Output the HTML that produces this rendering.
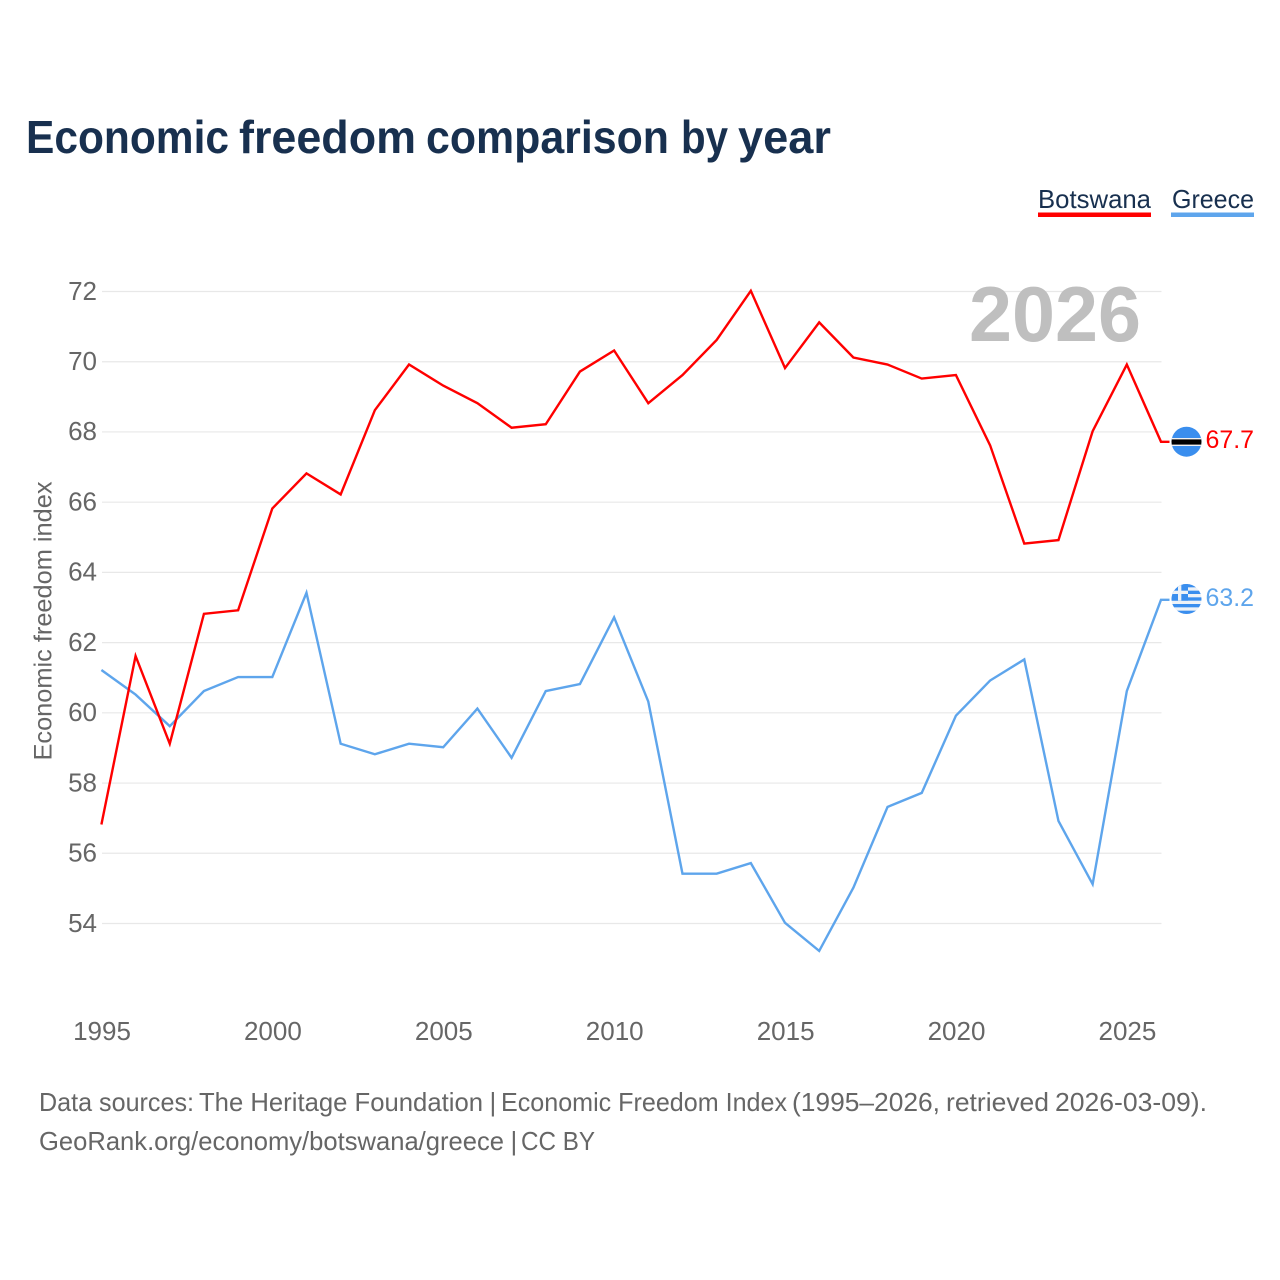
<!DOCTYPE html>
<html lang="en">
<head>
<meta charset="utf-8">
<title>Economic freedom comparison by year</title>
<style>
html,body{margin:0;padding:0;background:#fff;width:1280px;height:1280px;overflow:hidden}
svg{display:block}
text{font-family:"Liberation Sans",sans-serif}
</style>
</head>
<body>
<svg id="chart" xmlns="http://www.w3.org/2000/svg" width="1280" height="1280" viewBox="0 0 1280 1280">
  <rect x="0" y="0" width="1280" height="1280" fill="#fff"/>
  <text y="153" font-size="46.5" font-weight="700" fill="#18304f"><tspan x="26" textLength="203" lengthAdjust="spacingAndGlyphs">Economic</tspan> <tspan x="239" textLength="177" lengthAdjust="spacingAndGlyphs">freedom</tspan> <tspan x="426" textLength="243" lengthAdjust="spacingAndGlyphs">comparison</tspan> <tspan x="681" textLength="47" lengthAdjust="spacingAndGlyphs">by</tspan> <tspan x="738" textLength="93" lengthAdjust="spacingAndGlyphs">year</tspan></text>
  <g>
    <text x="1038" y="208" font-size="26" fill="#18304f" textLength="113" lengthAdjust="spacingAndGlyphs">Botswana</text>
    <rect x="1038" y="212.5" width="113" height="4.5" fill="#ff0000"/>
  </g>
  <g>
    <text x="1172" y="208" font-size="26" fill="#18304f" textLength="82" lengthAdjust="spacingAndGlyphs">Greece</text>
    <rect x="1171" y="212.5" width="83" height="4.5" fill="#5ea5ec"/>
  </g>
  <g id="grid"></g>
  <g id="yticks"></g>
  <g id="xticks"></g>
  <text transform="translate(51.5,621) rotate(-90)" text-anchor="middle" font-size="25" fill="#666" textLength="279" lengthAdjust="spacingAndGlyphs">Economic freedom index</text>
  <text x="1141" y="341" text-anchor="end" font-size="78" font-weight="700" fill="#bfbfbf" textLength="172" lengthAdjust="spacingAndGlyphs">2026</text>
  <g id="series"></g>
  <defs>
    <clipPath id="flag-clip-bw"><circle cx="1186.5" cy="441.7" r="15"/></clipPath>
    <clipPath id="flag-clip-gr"><circle cx="1186.5" cy="599" r="15"/></clipPath>
  </defs>
  <g clip-path="url(#flag-clip-bw)">
    <rect x="1171" y="426" width="31" height="32" fill="#3a8eee"/>
    <rect x="1171" y="438" width="31" height="8" fill="#f2f2f2"/>
    <rect x="1171" y="439.4" width="31" height="5.2" fill="#000"/>
  </g>
  <g clip-path="url(#flag-clip-gr)">
    <rect x="1171" y="584" width="31" height="30" fill="#eef2f7"/>
    <rect x="1171" y="584" width="31" height="3.33" fill="#3a8eee"/>
    <rect x="1171" y="590.67" width="31" height="3.33" fill="#3a8eee"/>
    <rect x="1171" y="597.33" width="31" height="3.33" fill="#3a8eee"/>
    <rect x="1171" y="604" width="31" height="3.33" fill="#3a8eee"/>
    <rect x="1171" y="610.67" width="31" height="3.33" fill="#3a8eee"/>
    <rect x="1171" y="584" width="17" height="16.67" fill="#3a8eee"/>
    <rect x="1171" y="590.67" width="17" height="3.33" fill="#eef2f7"/>
    <rect x="1178" y="584" width="3.33" height="16.67" fill="#eef2f7"/>
  </g>
  <text x="1205.5" y="448" font-size="25" fill="#ff0000" textLength="48.5" lengthAdjust="spacingAndGlyphs">67.7</text>
  <text x="1205.5" y="606" font-size="25" fill="#5ea5ec" textLength="48.5" lengthAdjust="spacingAndGlyphs">63.2</text>
  <text y="1111" font-size="26" fill="#666"><tspan x="39" textLength="155" lengthAdjust="spacingAndGlyphs">Data sources:</tspan> <tspan x="199" textLength="284" lengthAdjust="spacingAndGlyphs">The Heritage Foundation</tspan> <tspan x="489.5">|</tspan> <tspan x="501" textLength="286" lengthAdjust="spacingAndGlyphs">Economic Freedom Index</tspan> <tspan x="792" textLength="148" lengthAdjust="spacingAndGlyphs">(1995–2026,</tspan> <tspan x="946" textLength="103" lengthAdjust="spacingAndGlyphs">retrieved</tspan> <tspan x="1055" textLength="152" lengthAdjust="spacingAndGlyphs">2026-03-09).</tspan></text>
  <text y="1150" font-size="26" fill="#666"><tspan x="39" textLength="465" lengthAdjust="spacingAndGlyphs">GeoRank.org/economy/botswana/greece</tspan> <tspan x="510.5">|</tspan> <tspan x="521" textLength="74" lengthAdjust="spacingAndGlyphs">CC BY</tspan></text>
</svg>
<script>
const years = [1995,1996,1997,1998,1999,2000,2001,2002,2003,2004,2005,2006,2007,2008,2009,2010,2011,2012,2013,2014,2015,2016,2017,2018,2019,2020,2021,2022,2023,2024,2025,2026];
const botswana = [56.8,61.6,59.1,62.8,62.9,65.8,66.8,66.2,68.6,69.9,69.3,68.8,68.1,68.2,69.7,70.3,68.8,69.6,70.6,72.0,69.8,71.1,70.1,69.9,69.5,69.6,67.6,64.8,64.9,68.0,69.9,67.7];
const greece = [61.2,60.5,59.6,60.6,61.0,61.0,63.4,59.1,58.8,59.1,59.0,60.1,58.7,60.6,60.8,62.7,60.3,55.4,55.4,55.7,54.0,53.2,55.0,57.3,57.7,59.9,60.9,61.5,56.9,55.1,60.6,63.2];
const yTickValues = [54,56,58,60,62,64,66,68,70,72];
const xTickValues = [1995,2000,2005,2010,2015,2020,2025];

const NS = 'http://www.w3.org/2000/svg';
const plotLeft = 101.4, plotRight = 1161;
function xScale(year){ return plotLeft + (year - 1995) * (plotRight - plotLeft) / 31; }
function yScale(v){ return 290.8 + (72 - v) * 632 / 18; }
function make(tag, attrs, parent){
  const el = document.createElementNS(NS, tag);
  for (const k in attrs) el.setAttribute(k, attrs[k]);
  parent.appendChild(el);
  return el;
}
const grid = document.getElementById('grid');
const yticks = document.getElementById('yticks');
const xticks = document.getElementById('xticks');
const series = document.getElementById('series');

yTickValues.forEach(function(v){
  const line = make('line', {x1: 102, x2: 1161.5, y1: yScale(v) + 0.7, y2: yScale(v) + 0.7, stroke: '#e8e8e8', 'stroke-width': 1.2}, grid);
  
  
  const t = make('text', {x: 97, y: yScale(v) + 9, 'text-anchor': 'end', 'font-size': 26, fill: '#666'}, yticks);
  t.textContent = String(v);
  
  
});
xTickValues.forEach(function(y){
  const t = make('text', {x: xScale(y) + 0.6, y: 1040, 'text-anchor': 'middle', 'font-size': 26, fill: '#666'}, xticks);
  t.textContent = String(y);
  
  
});
function drawSeries(values, color){
  const pts = values.map(function(v, i){ return xScale(years[i]).toFixed(2) + ',' + yScale(v).toFixed(2); });
  const last = values[values.length - 1];
  pts.push((plotRight + 8.5) + ',' + yScale(last).toFixed(2));
  return make('polyline', {points: pts.join(' '), fill: 'none', stroke: color, 'stroke-width': 2.4, 'stroke-linejoin': 'miter'}, series);
}
const lineGreece = drawSeries(greece, '#5ea5ec');


const lineBotswana = drawSeries(botswana, '#ff0000');


</script>
</body>
</html>
